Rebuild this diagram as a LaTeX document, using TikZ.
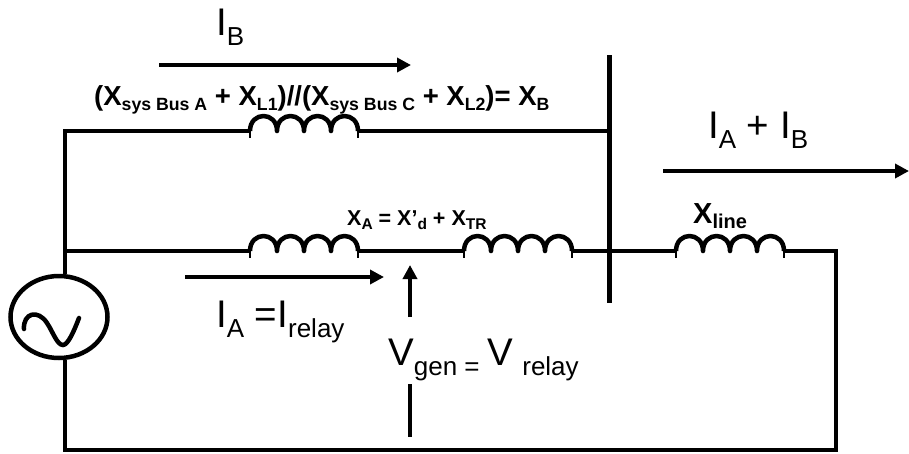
\documentclass[tikz,border=0pt]{standalone}
\usepackage{fontspec}
\setmainfont{Liberation Sans}
\usetikzlibrary{arrows.meta,shapes.geometric}
\newcommand{\bigt}[2]{{\fontsize{38.5}{40}\selectfont #1\raisebox{-10.5pt}{\fontsize{26}{28}\selectfont #2}}}
\newcommand{\bsub}[1]{\raisebox{-5pt}{\fontsize{17.7}{20}\selectfont #1}}
\newcommand{\asub}[1]{\raisebox{-4pt}{\fontsize{15.5}{17}\selectfont #1}}
\tikzset{
  x=1pt,y=-1pt,
  wire/.style={line width=4.5pt,line join=miter,line cap=butt},
  flow/.style={line width=4.5pt,-{Triangle[length=14pt,width=14pt]},shorten >=0pt},
  lbl/.style={inner sep=0pt,anchor=base west,text=black},
  coil/.pic={
    \draw[line width=4.5pt,line join=round]
      (0,0) .. controls +(0,-20) and +(0,-20) .. (27,0)
      .. controls +(0,-20) and +(0,-20) .. (54,0)
      .. controls +(0,-20) and +(0,-20) .. (81,0)
      .. controls +(0,-20) and +(0,-20) .. (108,0);
    \draw[line width=1.2pt] (0,-2) -- (0,7) (108,-2) -- (108,7);
  }
}
\begin{document}
\begin{tikzpicture}
\useasboundingbox (0,0) rectangle (909,453);
% named points
\coordinate (tl) at (65,131);
\coordinate (ml) at (65,251);
\coordinate (bl) at (65,450);
\coordinate (br) at (836,450);
\coordinate (mr) at (836,251);
\coordinate (busT) at (609.5,55);
\coordinate (busB) at (609.5,303);
\coordinate (busTop) at (609.5,131);
\coordinate (c1a) at (250,131); \coordinate (c1b) at (358,131);
\coordinate (c2a) at (250,251); \coordinate (c2b) at (358,251);
\coordinate (c3a) at (464,251); \coordinate (c3b) at (572,251);
\coordinate (c4a) at (676,251); \coordinate (c4b) at (784,251);
\coordinate (ib1) at (159,65);  \coordinate (ib2) at (411,65);
\coordinate (iab1) at (663,171); \coordinate (iab2) at (909,171);
\coordinate (ia1) at (185,277); \coordinate (ia2) at (384,277);
\coordinate (v1) at (410,317); \coordinate (v2) at (410,265);
\coordinate (v3) at (410,384); \coordinate (v4) at (410,437);
% generator
\node[draw,line width=4.5pt,ellipse,minimum width=97pt,minimum height=82pt,inner sep=0pt] (gen) at (59,317) {};
\draw[line width=4.5pt,line cap=round] (24,329) .. controls (23,313) and (38,309) .. (47,323)
  .. controls (53,332) and (57,345) .. (63,345) .. controls (68,345) and (74,331) .. (79,318);
% wires
\draw[wire] (gen.north -| tl) -- (ml) -- (tl) -- (c1a);
\draw[wire] (c1b) -- (busTop);
\draw[wire] (busT) -- (busB);
\draw[wire] (ml) -- (c2a);
\draw[wire] (c2b) -- (c3a);
\draw[wire] (c3b) -- (c4a);
\draw[wire] (c4b) -- (mr) -- (br) -- (bl) -- (gen.south -| bl);
% coils
\pic at (c1a) {coil}; \pic at (c2a) {coil}; \pic at (c3a) {coil}; \pic at (c4a) {coil};
% arrows
\draw[flow] (ib1) -- (ib2);
\draw[flow] (iab1) -- (iab2);
\draw[flow] (ia1) -- (ia2);
\draw[flow] (v1) -- (v2);
\draw[wire] (v3) -- (v4);
% labels
\node[lbl] (lIB) at (216,35) {\bigt{I}{B}};
\node[lbl] (lF) at (94,105) {\fontsize{27.5}{29}\selectfont\bfseries (X\bsub{sys Bus A} + X\bsub{L1})//(X\bsub{sys Bus C} + X\bsub{L2})= X\bsub{B}};
\node[lbl] (lXA) at (347,225) {\fontsize{21.5}{23}\selectfont\bfseries X\asub{A} = X’\asub{d} + X\asub{TR}};
\node[lbl] (lXl) at (693,223) {\fontsize{29}{31}\selectfont\bfseries X\raisebox{-5pt}{\fontsize{20}{22}\selectfont line}};
\node[lbl] (lIAB) at (708,138) {\bigt{I}{A}\fontsize{38.5}{40}\selectfont{} + \bigt{I}{B}};
\node[lbl] (lIA) at (216,327) {\bigt{I}{A}\fontsize{38.5}{40}\selectfont{} =\bigt{I}{relay}};
\node[lbl] (lV) at (388,365) {\bigt{V}{gen =}\hspace{8pt}\bigt{V}{\hspace{9pt}relay}};
\end{tikzpicture}
\end{document}
